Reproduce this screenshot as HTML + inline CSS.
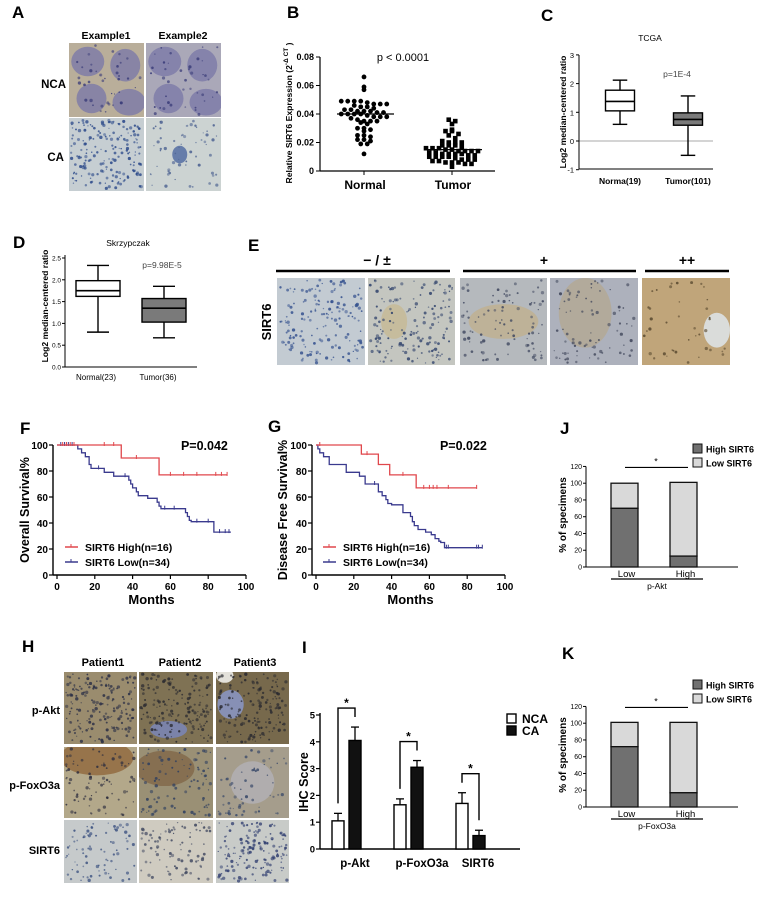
<!DOCTYPE html>
<html><head><meta charset="utf-8"><style>
html,body{margin:0;padding:0;background:#fff;}
svg{display:block;font-family:"Liberation Sans",Arial,sans-serif;}
.pl{font-size:17px;font-weight:bold;}
.b{font-weight:bold;}
</style></head><body>
<svg id="fig" width="762" height="898" viewBox="0 0 762 898" xmlns="http://www.w3.org/2000/svg">
<rect width="762" height="898" fill="#fff"/>
<text class="pl" x="12" y="18">A</text>
<text class="pl" x="287" y="18">B</text>
<text class="pl" x="541" y="21">C</text>
<text class="pl" x="13" y="248">D</text>
<text class="pl" x="248" y="251">E</text>
<text class="pl" x="20" y="434">F</text>
<text class="pl" x="268" y="432">G</text>
<text class="pl" x="560" y="434">J</text>
<text class="pl" x="22" y="652">H</text>
<text class="pl" x="302" y="653">I</text>
<text class="pl" x="562" y="659">K</text>
<text class="b" x="106" y="39" font-size="10.5" text-anchor="middle">Example1</text>
<text class="b" x="183" y="39" font-size="10.5" text-anchor="middle">Example2</text>
<text class="b" x="66" y="88" font-size="11.5" text-anchor="end">NCA</text>
<text class="b" x="64" y="161" font-size="11.5" text-anchor="end">CA</text>
<text class="b" x="377" y="265" font-size="14" text-anchor="middle">− / ±</text>
<text class="b" x="544" y="265" font-size="14" text-anchor="middle">+</text>
<text class="b" x="687" y="265" font-size="14" text-anchor="middle">++</text>
<line x1="276" y1="271" x2="450" y2="271" stroke="#000" stroke-width="2.5"/>
<line x1="463" y1="271" x2="636" y2="271" stroke="#000" stroke-width="2.5"/>
<line x1="645" y1="271" x2="729" y2="271" stroke="#000" stroke-width="2.5"/>
<text class="b" x="0" y="0" font-size="13" text-anchor="middle" transform="translate(271,322) rotate(-90)">SIRT6</text>
<text class="b" x="103" y="666" font-size="11" text-anchor="middle">Patient1</text>
<text class="b" x="180" y="666" font-size="11" text-anchor="middle">Patient2</text>
<text class="b" x="255" y="666" font-size="11" text-anchor="middle">Patient3</text>
<text class="b" x="60" y="714" font-size="11" text-anchor="end">p-Akt</text>
<text class="b" x="60" y="789" font-size="11" text-anchor="end">p-FoxO3a</text>
<text class="b" x="60" y="854" font-size="11" text-anchor="end">SIRT6</text>
<g id="layer"></g>
</svg>
<script>
// ---------- DATA ----------
const bNormal=[0.066,0.059,0.057,0.049,0.049,0.049,0.049,0.048,0.047,0.047,0.047,0.046,0.045,0.045,0.044,0.043,0.043,0.042,0.042,0.042,0.041,0.041,0.040,0.040,0.040,0.040,0.039,0.038,0.038,0.038,0.037,0.036,0.035,0.035,0.035,0.034,0.033,0.030,0.030,0.029,0.028,0.025,0.025,0.024,0.022,0.022,0.021,0.019,0.019,0.012];
const bTumor=[0.036,0.035,0.033,0.029,0.028,0.028,0.026,0.025,0.023,0.021,0.020,0.020,0.020,0.018,0.018,0.018,0.017,0.016,0.016,0.016,0.015,0.015,0.014,0.014,0.014,0.014,0.013,0.013,0.012,0.012,0.012,0.012,0.011,0.011,0.010,0.010,0.010,0.010,0.009,0.008,0.008,0.008,0.007,0.007,0.006,0.006,0.006,0.005,0.005,0.003];
const bMedians=[0.040,0.015];
const bTicks=[0,0.02,0.04,0.06,0.08];
const bTickLabels=["0","0.02","0.04","0.06","0.08"];
const cCats=["Norma(19)","Tumor(101)"];
const cBoxes=[[0.58,1.05,1.38,1.77,2.12],[-0.5,0.55,0.75,0.98,1.57]];
const cTicks=[-1,0,1,2,3];
const dCats=["Normal(23)","Tumor(36)"];
const dBoxes=[[0.8,1.62,1.75,1.98,2.33],[0.67,1.03,1.35,1.57,1.85]];
const dTicks=[0,0.5,1,1.5,2,2.5];
const dTickLabels=["0.0","0.5","1.0","1.5","2.0","2.5"];
const kmTicks=[0,20,40,60,80,100];
const fHighEvents=[[34,90],[54,77]];
const fHighEnd=90;
const fHighCensor=[3,5,7,9,25,30,42,60,67,74,84,87,90];
const fLowEvents=[[11,97],[13,94],[15,91],[17,85],[18,82],[25,79],[30,76],[38,73],[39,70],[40,67],[42,64],[43,61],[48,59],[53,56],[54,53],[55,51],[68,48],[69,45],[70,42],[71,41],[83,33]];
const fLowEnd=92;
const fLowCensor=[2,4,5,6,8,22,36,57,62,74,80,86,89,91];
const gHighEvents=[[24,93],[33,85],[39,77],[53,67]];
const gHighEnd=85;
const gHighCensor=[2,27,46,57,60,62,64,70,85];
const gLowEvents=[[1,97],[2,94],[4,91],[7,85],[16,79],[23,76],[26,70],[33,64],[35,61],[37,58],[38,55],[40,54],[46,48],[50,45],[51,41],[52,38],[54,35],[58,33],[61,31],[63,28],[65,26],[66,25],[68,21]];
const gLowEnd=88;
const gLowCensor=[31,69,70,85,86,88];
const iCats=["p-Akt","p-FoxO3a","SIRT6"];
const iNCA=[1.05,1.65,1.7];
const iCA=[4.05,3.05,0.5];
const iNCAerr=[0.28,0.22,0.4];
const iCAerr=[0.5,0.25,0.2];
const iTicks=[0,1,2,3,4,5];
const stackCats=["Low","High"];
const jHigh=[70,13];
const jTotal=[100,101];
const kHigh=[72,17];
const kTotal=[101,101];
const stackTicks=[0,20,40,60,80,100,120];

// ---------- HELPERS ----------
const NS="http://www.w3.org/2000/svg";
const layer=document.getElementById('layer');
function mk(tag,attrs,txt,parent){const e=document.createElementNS(NS,tag);for(const k in attrs)e.setAttribute(k,attrs[k]);if(txt!==undefined&&txt!==null)e.textContent=txt;(parent||layer).appendChild(e);return e;}
let seed=12345;function rnd(){seed=(seed*1103515245+12345)%2147483648;return seed/2147483648;}

function tissue(x,y,w,h,base,dots,n,blobs,name){
  const s=mk('svg',{x:x,y:y,width:w,height:h,overflow:'hidden'});
  
  
  const r=mk('rect',{x:0,y:0,width:w,height:h,fill:base},null,s);
  
  
  for(let i=0;i<blobs.length;i++){const b=blobs[i];
    const c=mk('ellipse',{cx:b[0]*w,cy:b[1]*h,rx:b[2]*w,ry:b[3]*h,fill:b[4],opacity:b[5]},null,s);
    
    }
  for(let i=0;i<n;i++){
    const d=mk('circle',{cx:2+rnd()*(w-4),cy:2+rnd()*(h-4),r:0.6+rnd()*1.1,fill:dots,opacity:0.5+rnd()*0.4},null,s);
    
    }
}
const ncaBlobs=[[0.25,0.25,0.22,0.2,'#7c79a8',0.8],[0.75,0.3,0.2,0.22,'#7c79a8',0.8],[0.3,0.75,0.2,0.2,'#7c79a8',0.8],[0.8,0.8,0.22,0.18,'#7c79a8',0.8]];
tissue(69,43,75,74,'#b9ae9a','#3c3e7a',40,ncaBlobs,'a-nca-example1');
tissue(146,43,75,74,'#aaa8b8','#3c3e7a',40,ncaBlobs,'a-nca-example2');
tissue(69,118,75,73,'#c6ced2','#2c4a8a',180,[],'a-ca-example1');
tissue(146,118,75,73,'#ccd3d2','#4a6090',60,[[0.45,0.5,0.1,0.12,'#3a5898',0.7]],'a-ca-example2');
tissue(277,278,88,87,'#c3cbd2','#33508e',160,[],'e-image-1');
tissue(368,278,87,87,'#c4c6c0','#34466e',150,[[0.3,0.5,0.15,0.2,'#c8b27a',0.5]],'e-image-2');
tissue(460,278,87,87,'#b5b9bd','#404860',90,[[0.5,0.5,0.4,0.2,'#c4ad7a',0.55]],'e-image-3');
tissue(550,278,88,87,'#adb1bc','#40465a',80,[[0.4,0.4,0.3,0.4,'#b8a37a',0.5]],'e-image-4');
tissue(642,278,88,87,'#c0a57a','#5a4a30',40,[[0.85,0.6,0.15,0.2,'#dde2e4',0.9]],'e-image-5');
tissue(64,672,73,72,'#9a8c6e','#2c3046',170,[],'h-pakt-patient1');
tissue(139,672,74,72,'#7f7254','#2a2a30',170,[[0.4,0.8,0.25,0.12,'#7a86b8',0.85]],'h-pakt-patient2');
tissue(216,672,73,72,'#77694c','#2a2a30',160,[[0.2,0.45,0.18,0.2,'#8a98c8',0.85],[0.12,0.05,0.12,0.1,'#eeeeea',0.9]],'h-pakt-patient3');
tissue(64,747,73,71,'#b3a88a','#303040',80,[[0.45,0.15,0.5,0.25,'#8c5e30',0.7]],'h-pfoxo3a-patient1');
tissue(139,747,74,71,'#9a9075','#304060',90,[[0.35,0.3,0.4,0.25,'#7a5a38',0.6]],'h-pfoxo3a-patient2');
tissue(216,747,73,71,'#a59d8c','#3a4a6a',60,[[0.5,0.5,0.3,0.3,'#b8b8c4',0.6]],'h-pfoxo3a-patient3');
tissue(64,820,73,63,'#c6cacb','#3a5080',80,[],'h-sirt6-patient1');
tissue(139,820,74,63,'#cfcbc0','#404860',90,[],'h-sirt6-patient2');
tissue(216,820,73,63,'#c8cbc8','#303e70',150,[],'h-sirt6-patient3');

function line(x1,y1,x2,y2,sw,col,name){const l=mk('line',{x1:x1,y1:y1,x2:x2,y2:y2,stroke:col||'#000','stroke-width':sw||1});
  
  return l;}
function txt(x,y,s,size,anchor,weight,name,extra){const a={x:x,y:y,'font-size':size,'text-anchor':anchor||'middle','font-weight':weight||'normal'};if(extra)for(const k in extra)a[k]=extra[k];const t=mk('text',a,s);
  
  return t;}

// ---------- B ----------
const yB=v=>171-v/0.08*114;
const bX=[364,452];
line(320,57,320,171,1.2,'#000','b-y-axis');
line(320,171,495,171,1.2,'#000','b-x-axis');
bTicks.forEach((v,i)=>{line(316,yB(v),320,yB(v),1,'#000','b-y-tick');txt(314,yB(v)+3,bTickLabels[i],9,'end','bold','b-y-tick-label');});
bX.forEach(x=>line(x,171,x,175,1,'#000','b-x-tick'));
txt(365,189,'Normal',12,'middle','bold','b-x-label-normal');
txt(453,189,'Tumor',12,'middle','bold','b-x-label-tumor');
txt(403,61,'p < 0.0001',11,'middle','normal','b-p-value');
const by=txt(0,0,'Relative SIRT6 Expression (2',8.6,'middle','bold','b-y-axis-title',{transform:'translate(292,113) rotate(-90)'});
const sup=document.createElementNS(NS,'tspan');sup.setAttribute('dy','-4');sup.setAttribute('font-size','6.5');sup.textContent='-Δ CT';by.appendChild(sup);
const sup2=document.createElementNS(NS,'tspan');sup2.setAttribute('dy','4');sup2.textContent=' )';by.appendChild(sup2);
function swarm(vals,cx,shape,name){
  const bins={};
  vals.forEach(v=>{const k=Math.round(v/0.003);(bins[k]=bins[k]||[]).push(v);});
  Object.keys(bins).forEach(k=>{const arr=bins[k];arr.forEach((v,j)=>{
    const off=(j-(arr.length-1)/2)*6.5;
    let m;
    if(shape==='c')m=mk('circle',{cx:cx+off,cy:yB(v),r:2.4,fill:'#000'});
    else m=mk('rect',{x:cx+off-2.3,y:yB(v)-2.3,width:4.6,height:4.6,fill:'#000'});
    
    
  });});
}
swarm(bNormal,bX[0],'c','b-normal-point');
swarm(bTumor,bX[1],'s','b-tumor-point');
bMedians.forEach((v,i)=>line(bX[i]-27,yB(v),bX[i]+30,yB(v),1.3,'#000','b-median-line'));

// ---------- box plots ----------
function boxplot(boxes,xs,bw,yf,fills,prefix){
  boxes.forEach((b,i)=>{const x=xs[i];
    line(x,yf(b[0]),x,yf(b[1]),1.4,'#000',prefix+'-whisker');
    line(x,yf(b[3]),x,yf(b[4]),1.4,'#000',prefix+'-whisker');
    line(x-bw/4,yf(b[0]),x+bw/4,yf(b[0]),1.4,'#000',prefix+'-whisker-cap');
    line(x-bw/4,yf(b[4]),x+bw/4,yf(b[4]),1.4,'#000',prefix+'-whisker-cap');
    const r=mk('rect',{x:x-bw/2,y:yf(b[3]),width:bw,height:yf(b[1])-yf(b[3]),fill:fills[i],stroke:'#000','stroke-width':1.4});
    
    
    line(x-bw/2,yf(b[2]),x+bw/2,yf(b[2]),1.6,'#000',prefix+'-median');
  });
}
const yC=v=>141-v*28.7;
line(713,141,579,141,1.2,'#bbb','c-zero-line');
line(579,55,579,169,1,'#000','c-y-axis');
line(579,169,713,169,1,'#000','c-x-axis');
cTicks.forEach(v=>{line(576,yC(v),579,yC(v),1,'#000','c-y-tick');txt(574,yC(v)+3,String(v),7.5,'end','normal','c-y-tick-label');});
boxplot(cBoxes,[620,688],29,yC,['#fff','#7a7a7a'],'c');
cCats.forEach((c,i)=>txt([620,688][i],184,c,8.5,'middle','bold','c-x-label'));
txt(650,41,'TCGA',8.5,'middle','normal','c-title');
txt(677,77,'p=1E-4',8.5,'middle','normal','c-p-value',{fill:'#444'});
txt(0,0,'Log2 median-centered ratio',8.6,'middle','bold','c-y-axis-title',{transform:'translate(566,112) rotate(-90)'});
const yD=v=>367-v*43.6;
line(65,255,65,367,1,'#000','d-y-axis');
line(65,367,197,367,1,'#000','d-x-axis');
dTicks.forEach((v,i)=>{line(62,yD(v),65,yD(v),1,'#000','d-y-tick');txt(61,yD(v)+2.5,dTickLabels[i],6.5,'end','normal','d-y-tick-label');});
boxplot(dBoxes,[98,164],44,yD,['#fff','#7a7a7a'],'d');
dCats.forEach((c,i)=>txt([96,158][i],380,c,8,'middle','normal','d-x-label'));
txt(128,246,'Skrzypczak',8.5,'middle','normal','d-title');
txt(162,268,'p=9.98E-5',8.5,'middle','normal','d-p-value',{fill:'#444'});
txt(0,0,'Log2 median-centered ratio',8.6,'middle','bold','d-y-axis-title',{transform:'translate(48,306) rotate(-90)'});

// ---------- KM ----------
function km(x0,prefix,high,highEnd,highC,low,lowEnd,lowC,pval,ytitle,ylx,legX){
  const X=t=>x0+4+t*1.89, Y=v=>575-v*1.3;
  line(x0,445,x0,575,1.4,'#000',prefix+'-y-axis');
  line(x0,575,x0+193,575,1.4,'#000',prefix+'-x-axis');
  kmTicks.forEach(v=>{line(x0-4,Y(v),x0,Y(v),1.2,'#000',prefix+'-y-tick');txt(x0-5,Y(v)+4,String(v),10,'end','bold',prefix+'-y-tick-label');
    line(X(v),575,X(v),579,1.2,'#000',prefix+'-x-tick');txt(X(v),590,String(v),10,'middle','bold',prefix+'-x-tick-label');});
  txt(X(50),604,'Months',13,'middle','bold',prefix+'-x-axis-title');
  txt(0,0,ytitle,12.5,'middle','bold',prefix+'-y-axis-title',{transform:'translate('+ylx+',510) rotate(-90)'});
  txt(X(78),450,pval,12.5,'middle','bold',prefix+'-p-value');
  function curve(ev,end,cens,col,name){
    let d='M'+X(0)+' '+Y(100);
    ev.forEach(e=>{d+=' H'+X(e[0])+' V'+Y(e[1]);});
    d+=' H'+X(end);
    const p=mk('path',{d:d,fill:'none',stroke:col,'stroke-width':1.3});
    
    
    cens.forEach(t=>{let s=100;ev.forEach(e=>{if(e[0]<=t)s=e[1];});line(X(t),Y(s)-3,X(t),Y(s)+1,1,col,name+'-censor-tick');});
  }
  curve(low,lowEnd,lowC,'#3a3a8e',prefix+'-low');
  curve(high,highEnd,highC,'#e0474c',prefix+'-high');
  line(legX,547,legX+13,547,1.5,'#e0474c',prefix+'-legend-high-line');
  line(legX+6,544,legX+6,547,1,'#e0474c',prefix+'-legend-high-tick');
  txt(legX+20,551,'SIRT6 High(n=16)',10.5,'start','bold',prefix+'-legend-high');
  line(legX,562,legX+13,562,1.5,'#3a3a8e',prefix+'-legend-low-line');
  line(legX+6,559,legX+6,562,1,'#3a3a8e',prefix+'-legend-low-tick');
  txt(legX+20,566,'SIRT6 Low(n=34)',10.5,'start','bold',prefix+'-legend-low');
}
km(53,'f',fHighEvents,fHighEnd,fHighCensor,fLowEvents,fLowEnd,fLowCensor,'P=0.042','Overall Survival%',29,65);
km(312,'g',gHighEvents,gHighEnd,gHighCensor,gLowEvents,gLowEnd,gLowCensor,'P=0.022','Disease Free Survival%',287,323);

// ---------- I ----------
const yI=v=>849-v*26.8;
const iC=[346,408,470];
line(320,713,320,849,1.4,'#000','i-y-axis');
line(320,849,520,849,1.4,'#000','i-x-axis');
iTicks.forEach(v=>{line(316,yI(v),320,yI(v),1.2,'#000','i-y-tick');txt(315,yI(v)+3.5,String(v),9.5,'end','bold','i-y-tick-label');});
iCats.forEach((c,i)=>{
  const xn=iC[i]-14,xc=iC[i]+3;
  line(xn+6,yI(iNCA[i]),xn+6,yI(iNCA[i]+iNCAerr[i]),1.3,'#000','i-nca-errorbar');
  line(xn+2,yI(iNCA[i]+iNCAerr[i]),xn+10,yI(iNCA[i]+iNCAerr[i]),1.3,'#000','i-nca-errorcap');
  line(xc+6,yI(iCA[i]),xc+6,yI(iCA[i]+iCAerr[i]),1.3,'#000','i-ca-errorbar');
  line(xc+2,yI(iCA[i]+iCAerr[i]),xc+10,yI(iCA[i]+iCAerr[i]),1.3,'#000','i-ca-errorcap');
  const r1=mk('rect',{x:xn,y:yI(iNCA[i]),width:12,height:yI(0)-yI(iNCA[i]),fill:'#fff',stroke:'#000','stroke-width':1.4});
  
  
  const r2=mk('rect',{x:xc,y:yI(iCA[i]),width:12,height:yI(0)-yI(iCA[i]),fill:'#111',stroke:'#000','stroke-width':1.4});
  
  
  const ln=yI(iNCA[i]+iNCAerr[i])-10, rn=yI(iCA[i]+iCAerr[i])-10, top=Math.min(ln,rn)-9;
  const br=mk('path',{d:'M'+(xn+6)+' '+ln+' V'+top+' H'+(xc+6)+' V'+rn,fill:'none',stroke:'#000','stroke-width':1.4});
  
  
  txt((xn+xc)/2+6,top-1,'*',12,'middle','bold','i-significance-star');
  txt(iC[i]+(i===1?14:i===2?8:9),867,c,11.5,'middle','bold','i-x-label');
});
txt(0,0,'IHC Score',12.5,'middle','bold','i-y-axis-title',{transform:'translate(308,782) rotate(-90)'});
const lb1=mk('rect',{x:507,y:714,width:9,height:9,fill:'#fff',stroke:'#000','stroke-width':1.4});


const lb2=mk('rect',{x:507,y:726,width:9,height:9,fill:'#111',stroke:'#000','stroke-width':1.4});


txt(522,723,'NCA',12,'start','bold','i-legend-nca');
txt(522,735,'CA',12,'start','bold','i-legend-ca');

// ---------- J / K stacked ----------
function stacked(prefix,y0,high,total,group){
  const Y=v=>y0-v*0.838;
  const xs=[611,670],bw=27;
  line(586,Y(120),586,y0,1,'#000',prefix+'-y-axis');
  line(586,y0,738,y0,1,'#000',prefix+'-x-axis');
  stackTicks.forEach(v=>{line(583,Y(v),586,Y(v),1,'#000',prefix+'-y-tick');txt(582,Y(v)+2.5,String(v),7,'end','normal',prefix+'-y-tick-label');});
  stackCats.forEach((c,i)=>{
    const r1=mk('rect',{x:xs[i],y:Y(total[i]),width:bw,height:Y(high[i])-Y(total[i]),fill:'#d9d9d9',stroke:'#111','stroke-width':1.3});
    
    
    const r2=mk('rect',{x:xs[i],y:Y(high[i]),width:bw,height:Y(0)-Y(high[i]),fill:'#707070',stroke:'#111','stroke-width':1.3});
    
    
    txt(xs[i]+bw/2+2,y0+10,c,9.5,'middle','normal',prefix+'-x-label');
  });
  line(611,y0+12,703,y0+12,1.2,'#000',prefix+'-group-line');
  txt(657,y0+22,group,8.5,'middle','normal',prefix+'-group-label');
  line(625,Y(120)+1,688,Y(120)+1,1.2,'#000',prefix+'-significance-line');
  txt(656,Y(120)-2,'*',9,'middle','normal',prefix+'-significance-star');
  txt(0,0,'% of specimens',10,'middle','bold',prefix+'-y-axis-title',{transform:'translate(566,'+(y0-52)+') rotate(-90)'});
}
stacked('j',567,jHigh,jTotal,'p-Akt');
stacked('k',807,kHigh,kTotal,'p-FoxO3a');
function stLegend(prefix,y){
  const a=mk('rect',{x:693,y:y-5,width:9,height:9,fill:'#707070',stroke:'#111','stroke-width':1});
  
  
  const b=mk('rect',{x:693,y:y+9,width:9,height:9,fill:'#d9d9d9',stroke:'#111','stroke-width':1});
  
  
  txt(706,y+3.5,'High SIRT6',9,'start','bold',prefix+'-legend-high');
  txt(706,y+17.5,'Low SIRT6',9,'start','bold',prefix+'-legend-low');
}
stLegend('j',449);
stLegend('k',685);
</script>
</body></html>
